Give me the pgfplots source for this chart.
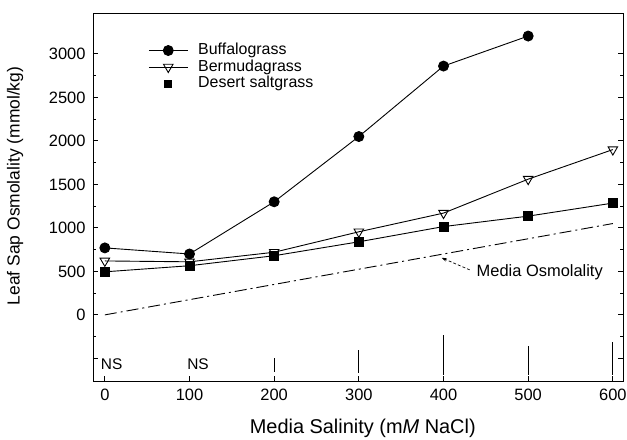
\documentclass[border=0pt]{standalone}
\usepackage{fontspec}
\setmainfont{Liberation Sans}
\usepackage{pgfplots}
\pgfplotsset{compat=1.18}
\usetikzlibrary{arrows.meta}
\pgfplotsset{
  wide line legend/.style={legend image code/.code={\draw[mark repeat=2,mark phase=2,##1] plot coordinates {(0bp,0bp) (19.5bp,0bp) (39bp,0bp)};}},
  single mark legend/.style={legend image code/.code={\draw[##1, only marks, mark size=3.5bp] plot coordinates {(19.5bp,0bp)};}},
}

\begin{document}
\begin{tikzpicture}
\begin{axis}[
  scale only axis, width=530bp, height=368bp,
  xmin=-14, xmax=612, ymin=-760, ymax=3470,
  xtick={0,100,...,600},
  ytick={-500,0,500,...,3000},
  yticklabels={,0,500,1000,1500,2000,2500,3000},
  minor y tick num=1,
  tick align=inside, xtick pos=bottom,
  major tick length=5bp, minor tick length=3bp,
  axis line style={line width=0.9bp},
  tick style={line width=0.9bp, black},
  /pgf/number format/assume math mode=true,
  ticklabel style={font=\fontsize{16.5}{19}\selectfont},
  xticklabel style={yshift=-5bp},
  yticklabel style={xshift=-4bp},
  xlabel={Media Salinity (m\textit{M} NaCl)},
  ylabel={Leaf Sap Osmolality (mmol/kg)},
  xlabel style={font=\fontsize{20}{24}\selectfont, at={(axis description cs:0.509,-0.13)}, anchor=center},
  ylabel style={font=\fontsize{17.5}{21}\selectfont, at={(axis description cs:-0.147,0.53)}, anchor=center},
  legend style={at={(axis description cs:0.104,0.921)}, anchor=north west,
    draw=none, fill=none, inner sep=0pt, column sep=9bp, row sep=0pt,
    font=\fontsize{16}{19}\selectfont,
    nodes={inner sep=1bp, text height=11.5bp, text depth=3bp}},
  legend cell align=left,
  wide line legend,
]
\coordinate (sw) at (rel axis cs:0,0);
\coordinate (ne) at (rel axis cs:1,1);

% Buffalograss
\addplot[black, line width=0.9bp, mark=*, mark size=5bp] coordinates {
  (0,770) (100,700) (200,1300) (300,2050) (400,2860) (500,3205)};
\addlegendentry{Buffalograss}

% Bermudagrass
\addplot[black, line width=0.9bp, mark=triangle, mark size=5.5bp,
  mark options={rotate=180, fill=white, solid}] coordinates {
  (0,620) (100,610) (200,720) (300,955) (400,1170) (500,1560) (600,1900)};
\addlegendentry{Bermudagrass}

% Desert saltgrass
\addplot[black, line width=0.9bp, mark=square*, mark size=4.5bp, single mark legend] coordinates {
  (0,495) (100,565) (200,680) (300,840) (400,1015) (500,1135) (600,1285)};
\addlegendentry{Desert saltgrass}

% Media osmolality
\addplot[forget plot, black, line width=0.9bp, no markers,
  dash pattern=on 12bp off 4bp on 2bp off 4bp] coordinates {
  (0,0) (100,175) (200,350) (300,525) (400,700) (500,875) (600,1050)};

% LSD bars
\addplot[forget plot, draw=none, no markers,
  error bars/.cd, y dir=both, y explicit, error mark=none,
  error bar style={line width=1.3bp, black}] coordinates {
  (200,-575) +- (0,80)
  (300,-535) +- (0,133)
  (400,-460) +- (0,230)
  (500,-523) +- (0,167)
  (600,-500) +- (0,190)};

\node[font=\fontsize{15.5}{18}\selectfont] at (axis cs:8,-561) {NS};
\node[font=\fontsize{15.5}{18}\selectfont] at (axis cs:110,-561) {NS};

\draw[densely dashed, line width=0.7bp, -{Stealth[length=5bp]}] (axis cs:431,517) -- (axis cs:398,655);
\node[anchor=west, inner sep=0pt, font=\fontsize{16.5}{19}\selectfont] at (axis cs:439,494) {Media Osmolality};
\end{axis}
\pgfresetboundingbox
\useasboundingbox ([xshift=-93bp,yshift=-59bp]sw) rectangle ([xshift=4bp,yshift=13bp]ne);
\end{tikzpicture}
\end{document}
